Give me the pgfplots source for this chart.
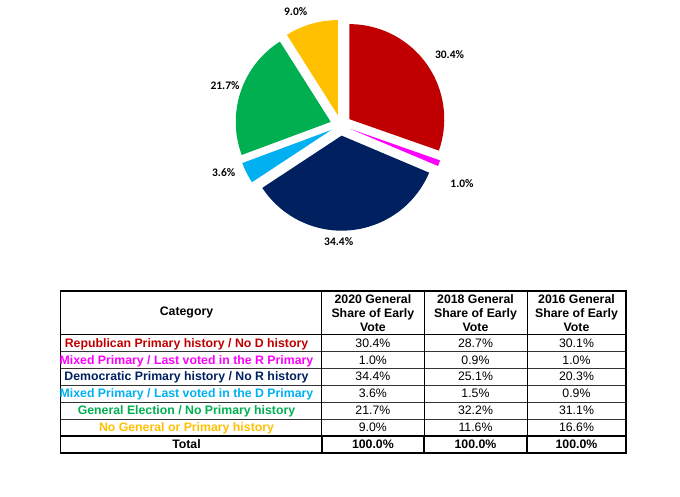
\documentclass[border=0pt]{standalone}
\usepackage{pgfplots}
\pgfplotsset{compat=1.18}
\usepackage{pgfplotstable}
\usepackage{fontspec}
\setmainfont{Liberation Sans}
\newfontfamily\calibri{Carlito}
\usetikzlibrary{calc}
\definecolor{pie0}{HTML}{C00000}
\definecolor{pie1}{HTML}{FF00FF}
\definecolor{pie2}{HTML}{002060}
\definecolor{pie3}{HTML}{00B0F0}
\definecolor{pie4}{HTML}{00B050}
\definecolor{pie5}{HTML}{FFC000}
\newcommand\labfont{\calibri\bfseries\fontsize{11.5}{13}\selectfont}
\newcommand\tabfont{\fontsize{12.3}{14.3}\selectfont}

\pgfplotstableread[col sep=comma]{
name,y2020,y2018,y2016,lx,ly
Republican Primary history / No D history,30.4,28.7,30.1,108.8,70.2
Mixed Primary / Last voted in the R Primary,1.0,0.9,1.0,121.3,-58.1
Democratic Primary history / No R history,34.4,25.1,20.3,-2,-116.5
Mixed Primary / Last voted in the D Primary,3.6,1.5,0.9,-117,-47.5
General Election / No Primary history,21.7,32.2,31.1,-115.7,39.5
No General or Primary history,9.0,11.6,16.6,-45,113.5
}\votedata

\begin{document}
\begin{tikzpicture}[x=1pt,y=1pt,font=\tabfont]
\path[use as bounding box] (0,0) rectangle (680,496);
% --- pie angles from the data
\def\tot{0}
\pgfplotsforeachungrouped \i in {0,...,5}{%
  \pgfplotstablegetelem{\i}{y2020}\of\votedata
  \pgfmathsetmacro\tot{\tot+\pgfplotsretval}%
}
\def\cum{0}
\pgfplotsforeachungrouped \i in {0,...,5}{%
  \pgfplotstablegetelem{\i}{y2020}\of\votedata
  \let\val\pgfplotsretval
  \pgfmathsetmacro\sa{90-360*(\cum/\tot)}%
  \pgfmathsetmacro\cum{\cum+\val}%
  \pgfmathsetmacro\ea{90-360*(\cum/\tot)}%
  \pgfmathsetmacro\ma{(\sa+\ea)/2}%
  \expandafter\xdef\csname pieS\i\endcsname{\sa}%
  \expandafter\xdef\csname pieE\i\endcsname{\ea}%
  \expandafter\xdef\csname pieM\i\endcsname{\ma}%
  \expandafter\xdef\csname pieV\i\endcsname{\val}%
  \pgfplotstablegetelem{\i}{lx}\of\votedata
  \expandafter\xdef\csname pieLX\i\endcsname{\pgfplotsretval}%
  \pgfplotstablegetelem{\i}{ly}\of\votedata
  \expandafter\xdef\csname pieLY\i\endcsname{\pgfplotsretval}%
}
\begin{axis}[at={(340.7pt,370.8pt)}, anchor=center, scale only axis,
  width=240pt, height=240pt, xmin=-120, xmax=120, ymin=-120, ymax=120,
  hide axis, clip=false]
\pgfplotsinvokeforeach{0,...,5}{%
  \edef\temp{\noexpand\fill[pie#1] ($(axis cs:0,0)+(\csname pieM#1\endcsname:10.5pt)$)
    -- ++(\csname pieS#1\endcsname:95pt)
    arc[start angle=\csname pieS#1\endcsname, end angle=\csname pieE#1\endcsname, radius=95pt] -- cycle;
    \noexpand\node[font=\noexpand\labfont, text=black] at (axis cs:\csname pieLX#1\endcsname,\csname pieLY#1\endcsname) {\csname pieV#1\endcsname\noexpand\%};}%
  \temp
}
\end{axis}
% --- table
\def\xa{60.5}\def\xb{321.7}\def\xc{424}\def\xd{527}\def\xe{626}
\def\yt{205}      % 496-291
\def\yh{161.7}    % 496-334.3
\def\ytot{60.2}   % 496-435.8
\def\yb{43.3}     % 496-452.7
% inner horizontal lines
\foreach \k in {1,...,5}{
  \draw[line width=0.7pt, black!80] (\xa,{\yh-16.91*\k}) -- (\xe,{\yh-16.91*\k});
}
\draw[line width=0.8pt] (\xa,\yh) -- (\xe,\yh);
% vertical separators
\foreach \xx in {\xb,\xc,\xd}{
  \draw[line width=0.8pt] (\xx,\yt) -- (\xx,\yb);
}
% total row box
\draw[line width=1.8pt] (\xa,\ytot) -- (\xe,\ytot);
\foreach \xx in {\xb,\xc,\xd}{
  \draw[line width=1.8pt] (\xx,\ytot) -- (\xx,\yb);
}
% outer border
\draw[line width=1.1pt] (\xa,\yt) rectangle (\xe,\yb);
\draw[line width=1.8pt] (\xa,\ytot) -- (\xa,\yb) -- (\xe,\yb) -- (\xe,\ytot);
% header
\begin{scope}[every node/.style={align=center, font=\bfseries\tabfont, inner sep=0pt}]
\node at (186.5,183) {Category};
\node at (372.9,183) {2020 General\\Share of Early\\Vote};
\node at (475.5,183) {2018 General\\Share of Early\\Vote};
\node at (576.5,183) {2016 General\\Share of Early\\Vote};
\end{scope}
% rows
\pgfplotsforeachungrouped \i in {0,...,5}{%
  \pgfmathsetmacro\rowY{\yh-16.91*\i-8.45-4.4}%
  \pgfplotstablegetelem{\i}{name}\of\votedata
  \node[anchor=base, inner sep=0pt, text=pie\i, font=\bfseries\tabfont] at (186.5,\rowY) {\pgfplotsretval};
  \pgfplotstablegetelem{\i}{y2020}\of\votedata
  \node[anchor=base, inner sep=0pt] at (372.9,\rowY) {\pgfplotsretval\%};
  \pgfplotstablegetelem{\i}{y2018}\of\votedata
  \node[anchor=base, inner sep=0pt] at (475.5,\rowY) {\pgfplotsretval\%};
  \pgfplotstablegetelem{\i}{y2016}\of\votedata
  \node[anchor=base, inner sep=0pt] at (576.5,\rowY) {\pgfplotsretval\%};
}
\pgfmathsetmacro\rowY{\yh-16.91*6-8.45-4.4}
\begin{scope}[every node/.style={anchor=base, inner sep=0pt, font=\bfseries\tabfont}]
\node at (186.5,\rowY) {Total};
\node at (372.9,\rowY) {100.0\%};
\node at (475.5,\rowY) {100.0\%};
\node at (576.5,\rowY) {100.0\%};
\end{scope}
\end{tikzpicture}
\end{document}
